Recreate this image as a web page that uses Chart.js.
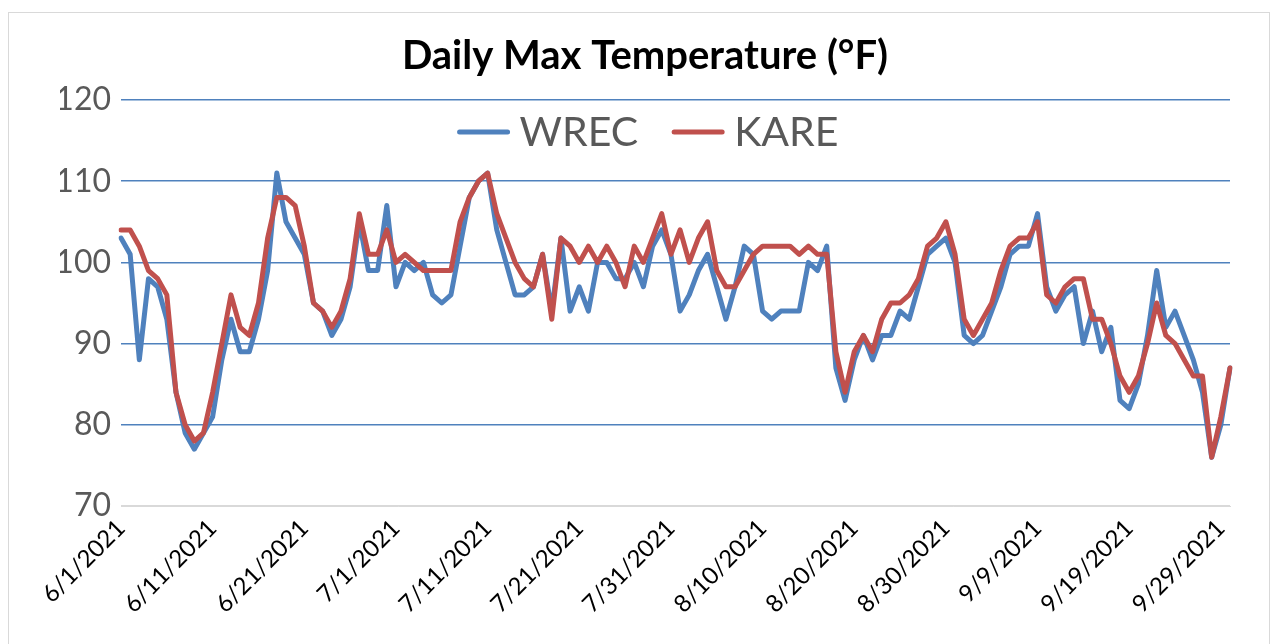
<!DOCTYPE html>
<html>
<head>
<meta charset="utf-8">
<script src="https://cdn.jsdelivr.net/npm/chart.js@4.4.0/dist/chart.umd.min.js"></script>
<style>
  html, body { margin: 0; padding: 0; background: #ffffff; }
  #frame { position: absolute; left: 8px; top: 12px; width: 1262px; height: 650px; border: 1px solid #D9D9D9; box-sizing: border-box; }
  #c { position: absolute; left: 0; top: 0; }
</style>
</head>
<body>
<div id="frame"></div>
<canvas id="c" width="1280" height="644"></canvas>
<script>
const chartTitle = "Daily Max Temperature (°F)";
const seriesNames = ["WREC", "KARE"];
const categories = [
  "6/1/2021","6/2/2021","6/3/2021","6/4/2021","6/5/2021","6/6/2021","6/7/2021","6/8/2021","6/9/2021","6/10/2021",
  "6/11/2021","6/12/2021","6/13/2021","6/14/2021","6/15/2021","6/16/2021","6/17/2021","6/18/2021","6/19/2021","6/20/2021",
  "6/21/2021","6/22/2021","6/23/2021","6/24/2021","6/25/2021","6/26/2021","6/27/2021","6/28/2021","6/29/2021","6/30/2021",
  "7/1/2021","7/2/2021","7/3/2021","7/4/2021","7/5/2021","7/6/2021","7/7/2021","7/8/2021","7/9/2021","7/10/2021",
  "7/11/2021","7/12/2021","7/13/2021","7/14/2021","7/15/2021","7/16/2021","7/17/2021","7/18/2021","7/19/2021","7/20/2021",
  "7/21/2021","7/22/2021","7/23/2021","7/24/2021","7/25/2021","7/26/2021","7/27/2021","7/28/2021","7/29/2021","7/30/2021",
  "7/31/2021","8/1/2021","8/2/2021","8/3/2021","8/4/2021","8/5/2021","8/6/2021","8/7/2021","8/8/2021","8/9/2021",
  "8/10/2021","8/11/2021","8/12/2021","8/13/2021","8/14/2021","8/15/2021","8/16/2021","8/17/2021","8/18/2021","8/19/2021",
  "8/20/2021","8/21/2021","8/22/2021","8/23/2021","8/24/2021","8/25/2021","8/26/2021","8/27/2021","8/28/2021","8/29/2021",
  "8/30/2021","8/31/2021","9/1/2021","9/2/2021","9/3/2021","9/4/2021","9/5/2021","9/6/2021","9/7/2021","9/8/2021",
  "9/9/2021","9/10/2021","9/11/2021","9/12/2021","9/13/2021","9/14/2021","9/15/2021","9/16/2021","9/17/2021","9/18/2021",
  "9/19/2021","9/20/2021","9/21/2021","9/22/2021","9/23/2021","9/24/2021","9/25/2021","9/26/2021","9/27/2021","9/28/2021",
  "9/29/2021","9/30/2021"
];
const tickLabels = ["6/1/2021","6/11/2021","6/21/2021","7/1/2021","7/11/2021","7/21/2021","7/31/2021","8/10/2021","8/20/2021","8/30/2021","9/9/2021","9/19/2021","9/29/2021"];
const wrec = [
  103,101,88,98,97,93,84,79,77,79,
  81,88,93,89,89,93,99,111,105,103,
  101,95,94,91,93,97,105,99,99,107,
  97,100,99,100,96,95,96,102,108,110,
  111,104,100,96,96,97,101,94,103,94,
  97,94,100,100,98,98,100,97,102,104,
  101,94,96,99,101,97,93,97,102,101,
  94,93,94,94,94,100,99,102,87,83,
  88,91,88,91,91,94,93,97,101,102,
  103,100,91,90,91,94,97,101,102,102,
  106,97,94,96,97,90,94,89,92,83,
  82,85,91,99,92,94,91,88,84,76,
  80,87
];
const kare = [
  104,104,102,99,98,96,84,80,78,79,
  84,90,96,92,91,95,103,108,108,107,
  102,95,94,92,94,98,106,101,101,104,
  100,101,100,99,99,99,99,105,108,110,
  111,106,103,100,98,97,101,93,103,102,
  100,102,100,102,100,97,102,100,103,106,
  101,104,100,103,105,99,97,97,99,101,
  102,102,102,102,101,102,101,101,89,84,
  89,91,89,93,95,95,96,98,102,103,
  105,101,93,91,93,95,99,102,103,103,
  105,96,95,97,98,98,93,93,90,86,
  84,86,90,95,91,90,88,86,86,76,
  81,87
];
const yMin = 70, yMax = 120, yStep = 10;
const colors = ["#4F81BD", "#C0504D"];

const legendPlugin = {
  id: 'insideLegend',
  afterDraw(chart) {
    const ctx = chart.ctx;
    ctx.save();
    ctx.font = '41px Lato';
    ctx.textBaseline = 'middle';
    const lineW = 52, gap = 10, itemGap = 34;
    const items = chart.data.datasets.map(ds => ({label: ds.label, color: ds.borderColor, w: ctx.measureText(ds.label).width}));
    let total = 0;
    items.forEach((it, i) => { total += lineW + gap + it.w + (i < items.length - 1 ? itemGap : 0); });
    let x = 648 - total / 2;
    const y = 132;
    items.forEach(it => {
      ctx.strokeStyle = it.color;
      ctx.lineWidth = 5;
      ctx.lineCap = 'round';
      ctx.beginPath();
      ctx.moveTo(x + 2, y);
      ctx.lineTo(x + lineW - 2, y);
      ctx.stroke();
      x += lineW + gap;
      ctx.fillStyle = '#595959';
      ctx.fillText(it.label, x, y + 1);
      x += it.w + itemGap;
    });
    ctx.restore();
  }
};

new Chart(document.getElementById('c'), {
  type: 'line',
  data: {
    labels: categories,
    datasets: [
      { label: seriesNames[0], data: wrec, borderColor: colors[0], backgroundColor: colors[0], borderWidth: 5, pointRadius: 0, tension: 0, order: 2, borderJoinStyle: 'round', borderCapStyle: 'round' },
      { label: seriesNames[1], data: kare, borderColor: colors[1], backgroundColor: colors[1], borderWidth: 5, pointRadius: 0, tension: 0, order: 1, borderJoinStyle: 'round', borderCapStyle: 'round' }
    ]
  },
  options: {
    responsive: false,
    animation: false,
    layout: { padding: { left: 60, right: 50, top: 0, bottom: 0 } },
    plugins: {
      legend: { display: false },
      tooltip: { enabled: false },
      title: {
        display: true,
        text: chartTitle,
        color: '#000000',
        font: { family: 'Lato', size: 40, weight: 'bold', lineHeight: 1.2 },
        padding: { top: 32, bottom: 20 }
      }
    },
    scales: {
      x: {
        grid: { display: false, drawTicks: false },
        border: { display: true, color: '#D9D9D9', width: 1 },
        ticks: {
          autoSkip: false,
          maxRotation: 45,
          minRotation: 45,
          padding: 8,
          color: '#000000',
          font: { family: 'Lato', size: 24 },
          callback: function(value, index) {
            const lab = categories[index];
            return tickLabels.includes(lab) ? lab : '';
          }
        },
        afterFit(scale) { scale.height = 138; }
      },
      y: {
        min: yMin,
        max: yMax,
        grid: {
          drawTicks: false,
          lineWidth: 1.5,
          color: (ctx) => (ctx.tick && ctx.tick.value === yMin) ? '#D9D9D9' : '#4F81BD'
        },
        border: { display: false },
        ticks: {
          stepSize: yStep,
          padding: 10,
          color: '#595959',
          font: { family: 'Lato', size: 32 }
        },
        afterFit(scale) { scale.width = 61; }
      }
    }
  },
  plugins: [legendPlugin]
});
</script>
</body>
</html>
